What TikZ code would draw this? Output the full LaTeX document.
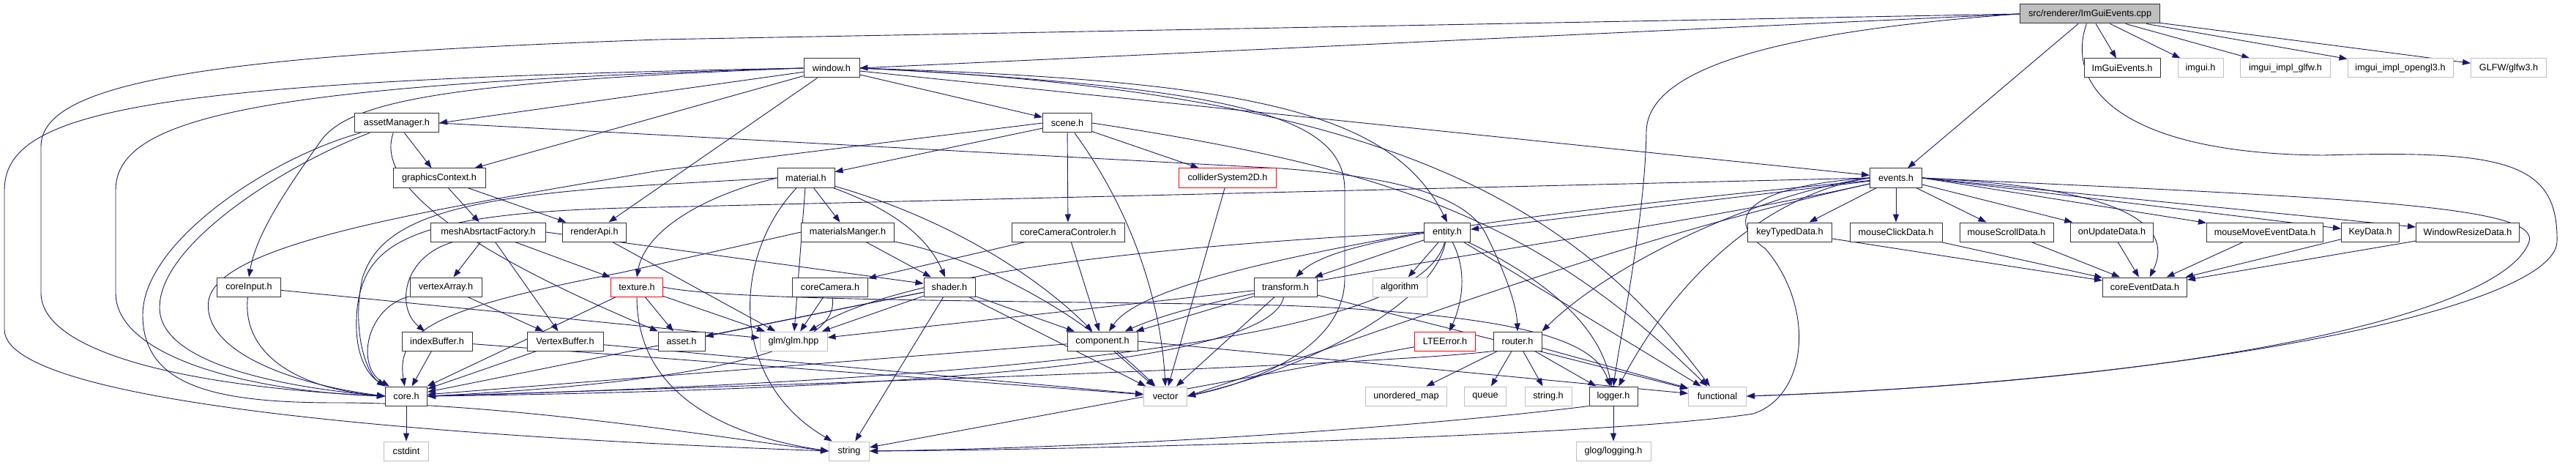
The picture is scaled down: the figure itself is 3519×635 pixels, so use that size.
\documentclass[tikz,border=0pt]{standalone}
\usepackage{fontspec}
\setmainfont{Liberation Sans}
\usepackage{tikz}
\usetikzlibrary{arrows.meta}
\definecolor{edgeblue}{HTML}{191970}
\definecolor{rootgray}{HTML}{BFBFBF}
\pgfdeclarelayer{bg}
\pgfsetlayers{bg,main}

\begin{document}
\begin{tikzpicture}[x=1bp,y=-1bp,
  hdr/.style={rectangle,draw=black!80,fill=white,line width=1bp,minimum height=26bp,
              inner sep=0pt,font=\fontsize{12.7}{15}\selectfont},
  sys/.style={hdr,draw=black!25},
  bad/.style={hdr,draw=red},
  root/.style={hdr,fill=rootgray},
  dep/.style={-{Triangle[length=11bp,width=8bp]},draw=edgeblue,line width=0.9bp}
]
  \useasboundingbox (0,0) rectangle (3519,635);

  \node[root,minimum width=191bp] (src) at (2855,19) {src/renderer/ImGuiEvents.cpp};

  \node[hdr,minimum width=76bp] (window) at (1136,93) {window.h};
  \node[hdr,minimum width=104bp] (imguiev) at (2899,93) {ImGuiEvents.h};
  \node[sys,minimum width=62bp] (imgui) at (3006,93) {imgui.h};
  \node[sys,minimum width=123bp] (implglfw) at (3122,93) {imgui\_impl\_glfw.h};
  \node[sys,minimum width=144bp] (implgl3) at (3279,93) {imgui\_impl\_opengl3.h};
  \node[sys,minimum width=103bp] (glfw) at (3427,93) {GLFW/glfw3.h};

  \node[hdr,minimum width=115bp] (assetmgr) at (542,168) {assetManager.h};
  \node[hdr,minimum width=67bp] (scene) at (1458,168) {scene.h};

  \node[hdr,minimum width=126bp] (gfxctx) at (600,243) {graphicsContext.h};
  \node[hdr,minimum width=78bp] (material) at (1101,243) {material.h};
  \node[bad,minimum width=133bp] (collider) at (1677,243) {colliderSystem2D.h};
  \node[hdr,minimum width=71bp] (events) at (2590,243) {events.h};

  \node[hdr,minimum width=157bp] (meshfac) at (667,317) {meshAbsrtactFactory.h};
  \node[hdr,minimum width=87bp] (renderapi) at (812,317) {renderApi.h};
  \node[hdr,minimum width=127bp] (matmgr) at (1158,317) {materialsManger.h};
  \node[hdr,minimum width=154bp] (camctl) at (1459,317) {coreCameraControler.h};
  \node[hdr,minimum width=63bp] (entity) at (1977,317) {entity.h};
  \node[hdr,minimum width=115bp] (keytyped) at (2445,317) {keyTypedData.h};
  \node[hdr,minimum width=126bp] (mouseclick) at (2590,317) {mouseClickData.h};
  \node[hdr,minimum width=128bp] (mousescroll) at (2741,317) {mouseScrollData.h};
  \node[hdr,minimum width=113bp] (onupdate) at (2885,317) {onUpdateData.h};
  \node[hdr,minimum width=159bp] (mousemove) at (3094,317) {mouseMoveEventData.h};
  \node[hdr,minimum width=79bp] (keydata) at (3238,317) {KeyData.h};
  \node[hdr,minimum width=141bp] (winresize) at (3371,317) {WindowResizeData.h};

  \node[hdr,minimum width=87bp] (coreinput) at (340,392) {coreInput.h};
  \node[hdr,minimum width=98bp] (vertexarray) at (609,392) {vertexArray.h};
  \node[bad,minimum width=71bp] (texture) at (870,392) {texture.h};
  \node[hdr,minimum width=103bp] (corecam) at (1134,392) {coreCamera.h};
  \node[hdr,minimum width=70bp] (shader) at (1297,392) {shader.h};
  \node[hdr,minimum width=86bp] (transform) at (1756,392) {transform.h};
  \node[sys,minimum width=74bp] (algorithm) at (1912,392) {algorithm};
  \node[hdr,minimum width=115bp] (coreevent) at (2930,392) {coreEventData.h};

  \node[hdr,minimum width=96bp] (indexbuf) at (597,466) {indexBuffer.h};
  \node[hdr,minimum width=104bp] (vertexbuf) at (772,466) {VertexBuffer.h};
  \node[hdr,minimum width=64bp] (asset) at (931,466) {asset.h};
  \node[sys,minimum width=92bp] (glm) at (1084,466) {glm/glm.hpp};
  \node[hdr,minimum width=96bp] (component) at (1506,466) {component.h};
  \node[bad,minimum width=83bp] (lteerror) at (1974,466) {LTEError.h};
  \node[hdr,minimum width=66bp] (router) at (2073,466) {router.h};

  \node[hdr,minimum width=57bp] (core) at (555,541) {core.h};
  \node[sys,minimum width=59bp] (vector) at (1592,541) {vector};
  \node[sys,minimum width=111bp] (umap) at (1921,541) {unordered\_map};
  \node[sys,minimum width=57bp] (queue) at (2029,541) {queue};
  \node[sys,minimum width=64bp] (stringh) at (2115,541) {string.h};
  \node[hdr,minimum width=66bp] (logger) at (2204,541) {logger.h};
  \node[sys,minimum width=79bp] (functional) at (2346,541) {functional};

  \node[sys,minimum width=61bp] (cstdint) at (555,616) {cstdint};
  \node[sys,minimum width=55bp] (string) at (1160,616) {string};
  \node[sys,minimum width=102bp] (glog) at (2204,616) {glog/logging.h};

  \begin{pgfonlayer}{bg}
  \draw[dep] (src.west) -- (window.east);
  \foreach \t in {imguiev,imgui,implglfw,implgl3,glfw}
    \draw[dep] (src) -- (\t);
  \draw[dep] (src) -- (events);
  \draw[dep] (src.west) -- (900,54) .. controls (300,75) and (56,110) .. (56,200)
    -- (56,400) .. controls (56,480) and (250,528) .. (core.west);
  \draw[dep] (src.west) .. controls (2400,45) and (2250,100) .. (2249,180)
    .. controls (2247,300) and (2215,450) .. (logger.north);
  \draw[dep] (src) .. controls (2820,120) and (2900,210) .. (3174,212)
    .. controls (3420,205) and (3495,220) .. (3493,330)
    .. controls (3490,420) and (3000,520) .. (functional.east);

  \draw[dep] (window.west) .. controls (200,110) and (6,150) .. (6,260)
    -- (6,450) .. controls (6,560) and (700,600) .. (string.west);
  \draw[dep] (window.west) .. controls (350,115) and (158,160) .. (158,260)
    -- (158,400) .. controls (158,490) and (350,535) .. (core.west);
  \draw[dep] (window.west) .. controls (600,112) and (480,140) .. (440,190)
    .. controls (390,260) and (350,320) .. (coreinput.north);
  \draw[dep] (window) -- (assetmgr.east);
  \draw[dep] (window) -- (gfxctx);
  \draw[dep] (window) -- (renderapi);
  \draw[dep] (window) -- (scene);
  \draw[dep] (window) -- (events);
  \draw[dep] (window.east) .. controls (1700,110) and (1900,150) .. (entity.north);
  \draw[dep] (window.east) .. controls (1700,120) and (1837,160) .. (1837,260)
    -- (1837,380) .. controls (1837,480) and (1700,525) .. (vector.east);
  \draw[dep] (window.east) .. controls (1900,125) and (2150,280) .. (functional);

  \draw[dep] (assetmgr) -- (gfxctx);
  \draw[dep] (assetmgr) .. controls (400,220) and (218,330) .. (218,420)
    .. controls (218,500) and (400,530) .. (core.west);
  \draw[dep] (assetmgr) .. controls (370,215) and (195,330) .. (195,430)
    .. controls (195,530) and (300,550) .. (460,550)
    .. controls (700,550) and (1000,600) .. (string.west);
  \draw[dep] (assetmgr) .. controls (520,230) and (560,310) .. (asset);
  \draw[dep] (assetmgr.east) -- (1750,230) .. controls (1880,240) and (2000,260) .. (2030,320)
    .. controls (2060,380) and (2072,420) .. (router.north);

  \draw[dep] (scene) -- (material);
  \draw[dep] (scene) -- (collider);
  \draw[dep] (scene) -- (camctl);
  \draw[dep] (scene) .. controls (1540,280) and (1585,400) .. (vector.north);
  \draw[dep] (scene.west) -- (900,233) .. controls (600,285) and (300,330) .. (285,410)
    .. controls (275,480) and (400,525) .. (core.west);
  \draw[dep] (scene.east) .. controls (1900,230) and (2100,300) .. (functional);

  \draw[dep] (gfxctx) -- (meshfac);
  \draw[dep] (gfxctx) -- (renderapi);

  \draw[dep] (material) -- (matmgr);
  \draw[dep] (material) .. controls (1230,290) and (1270,330) .. (shader);
  \draw[dep] (material.west) .. controls (950,270) and (880,320) .. (texture.north);
  \draw[dep] (material) -- (glm);
  \draw[dep] (material) .. controls (1000,350) and (995,520) .. (string);
  \draw[dep] (material) .. controls (1300,300) and (1420,380) .. (component);
  \draw[dep] (material.west) -- (900,252) .. controls (620,268) and (520,300) .. (495,380)
    .. controls (480,450) and (500,510) .. (core.north west);

  \draw[dep] (collider) -- (vector);

  \draw[dep] (events) -- (keytyped);
  \draw[dep] (events) -- (mouseclick);
  \draw[dep] (events) -- (mousescroll);
  \draw[dep] (events) -- (onupdate);
  \draw[dep] (events.east) -- (mousemove);
  \draw[dep] (events.east) -- (keydata);
  \draw[dep] (events.east) -- (winresize);
  \draw[dep] (events.east) .. controls (2880,255) and (2975,300) .. (coreevent);
  \draw[dep] (events.east) .. controls (3200,270) and (3470,280) .. (3455,330)
    .. controls (3420,430) and (3000,520) .. (functional.east);
  \draw[dep] (events.west) .. controls (2380,255) and (2355,300) .. (2412,340)
    .. controls (2480,420) and (2470,540) .. (2395,565)
    .. controls (2200,595) and (1500,614) .. (string.east);
  \draw[dep] (events) -- (entity);
  \draw[dep] (events) .. controls (2000,300) and (1820,330) .. (transform);
  \draw[dep] (events) .. controls (2200,330) and (1700,380) .. (component);
  \draw[dep] (events) .. controls (2200,330) and (1900,450) .. (vector.east);
  \draw[dep] (events.west) .. controls (2400,265) and (2200,360) .. (router.north east);
  \draw[dep] (events.west) .. controls (2430,262) and (2300,360) .. (logger);
  \draw[dep] (events.west) -- (900,283) .. controls (560,288) and (500,330) .. (488,420)
    .. controls (482,480) and (500,510) .. (core.north west);

  \draw[dep] (meshfac) -- (vertexarray);
  \draw[dep] (meshfac) .. controls (550,350) and (540,420) .. (indexbuf);
  \draw[dep] (meshfac) -- (vertexbuf);
  \draw[dep] (meshfac) -- (texture);
  \draw[dep] (meshfac.east) -- (shader);

  \draw[dep] (renderapi) -- (glm);

  \draw[dep] (matmgr) -- (shader);
  \draw[dep] (matmgr) .. controls (1370,360) and (1500,450) .. (vector);
  \draw[dep] (matmgr.west) -- (850,372) .. controls (600,420) and (540,450) .. (core);

  \draw[dep] (camctl) -- (corecam);
  \draw[dep] (camctl) -- (component);

  \draw[dep] (entity) -- (transform);
  \draw[dep] (entity) -- (algorithm);
  \draw[dep] (entity) .. controls (2010,380) and (1990,430) .. (lteerror);
  \draw[dep] (entity) .. controls (2150,400) and (2190,470) .. (logger);
  \draw[dep] (entity) -- (functional);
  \draw[dep] (entity.west) .. controls (1700,330) and (1250,360) .. (glm);
  \draw[dep] (entity.west) .. controls (1700,360) and (1550,400) .. (component);
  \draw[dep] (entity) .. controls (1960,410) and (1800,500) .. (vector.east);
  \draw[dep] (entity) .. controls (1950,420) and (1700,510) .. (core.east);

  \draw[dep] (coreinput) .. controls (330,480) and (400,530) .. (core.west);
  \draw[dep] (coreinput) -- (glm);

  \draw[dep] (vertexarray) -- (vertexbuf);
  \draw[dep] (vertexarray) .. controls (500,420) and (485,500) .. (core);

  \draw[dep] (texture) -- (core);
  \draw[dep] (texture) -- (asset);
  \draw[dep] (texture) -- (glm);
  \draw[dep] (texture.south) .. controls (870,520) and (960,590) .. (string.west);
  \draw[dep] (texture.east) .. controls (1000,412) and (1400,410) .. (1750,417)
    .. controls (2100,430) and (2180,470) .. (logger);

  \draw[dep] (corecam) -- (glm);
  \draw[dep] (corecam) .. controls (1150,470) and (1000,520) .. (core.east);

  \draw[dep] (shader) -- (asset);
  \draw[dep] (shader) -- (glm);
  \draw[dep] (shader) -- (component);
  \draw[dep] (shader) -- (vector);
  \draw[dep] (shader) -- (string);
  \draw[dep] (shader) -- (core);

  \draw[dep] (transform) -- (glm);
  \draw[dep] (transform) -- (component);
  \draw[dep] (transform) -- (vector);
  \draw[dep] (transform) -- (functional);
  \draw[dep] (transform) .. controls (1740,480) and (1400,530) .. (core.east);

  \draw[dep] (indexbuf) -- (core);
  \draw[dep] (indexbuf) -- (vector);
  \draw[dep] (vertexbuf) -- (core);
  \draw[dep] (vertexbuf) -- (vector);

  \draw[dep] (component) -- (core);
  \draw[dep] (component) -- (vector);
  \draw[dep] (component.east) -- (functional);

  \draw[dep] (lteerror) -- (string);

  \draw[dep] (router) -- (umap);
  \draw[dep] (router) -- (queue);
  \draw[dep] (router) -- (stringh);
  \draw[dep] (router) -- (logger);
  \draw[dep] (router) -- (functional);
  \draw[dep] (router.south west) .. controls (1900,497) and (1200,522) .. (core.east);

  \draw[dep] (logger) -- (glog);
  \draw[dep] (logger.south west) .. controls (2000,576) and (1600,610) .. (string.east);

  \draw[dep] (core) -- (cstdint);

  \foreach \d in {keytyped,mouseclick,mousescroll,onupdate,mousemove,keydata,winresize}
    \draw[dep] (\d) -- (coreevent);
  \end{pgfonlayer}
\end{tikzpicture}
\end{document}
